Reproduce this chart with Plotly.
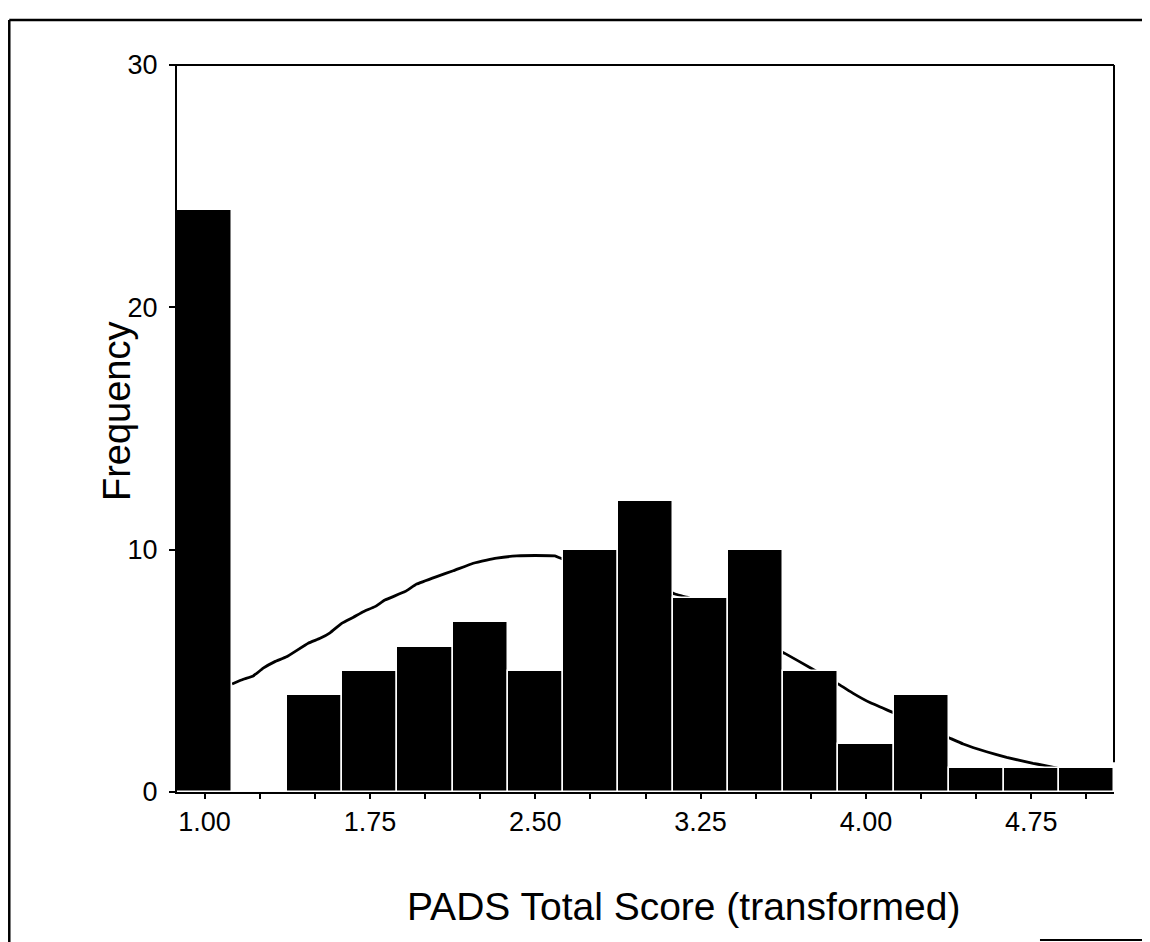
import plotly.graph_objects as go

# ---- data ----
bin_centers = [1.00, 1.25, 1.50, 1.75, 2.00, 2.25, 2.50, 2.75, 3.00, 3.25,
               3.50, 3.75, 4.00, 4.25, 4.50, 4.75, 5.00]
counts = [24, 0, 4, 5, 6, 7, 5, 10, 12, 8, 10, 5, 2, 4, 1, 1, 1]

# normal curve
curve_x = [1.125, 1.176, 1.221, 1.266, 1.319, 1.372, 1.470, 1.524, 1.569, 1.622,
           1.675, 1.720, 1.773, 1.818, 1.909, 1.962, 2.053, 2.128, 2.219, 2.280,
           2.325, 2.416, 2.500, 2.589, 2.620, 2.750, 2.884, 3.000, 3.134, 3.187,
           3.250, 3.383, 3.500, 3.632, 3.753, 3.881, 3.942, 4.018, 4.131, 4.250,
           4.381, 4.441, 4.547, 4.638, 4.758, 4.802, 4.900, 5.000, 5.125]
curve_y = [4.46, 4.65, 4.79, 5.11, 5.38, 5.58, 6.14, 6.34, 6.57, 6.96,
           7.21, 7.44, 7.65, 7.92, 8.27, 8.58, 8.89, 9.13, 9.44, 9.57,
           9.65, 9.74, 9.76, 9.74, 9.63, 9.40, 9.09, 8.70, 8.17, 8.04,
           7.75, 6.99, 6.35, 5.72, 5.10, 4.42, 4.07, 3.69, 3.25, 2.75,
           2.22, 1.98, 1.66, 1.43, 1.18, 1.11, 0.92, 0.76, 0.58]

tick_values = [1.00, 1.25, 1.50, 1.75, 2.00, 2.25, 2.50, 2.75, 3.00, 3.25,
               3.50, 3.75, 4.00, 4.25, 4.50, 4.75, 5.00]
tick_labels = ["1.00", "", "", "1.75", "", "", "2.50", "", "", "3.25",
               "", "", "4.00", "", "", "4.75", ""]
y_ticks = [0, 10, 20, 30]

x_range = [0.875, 5.125]
y_range = [0, 30]

FONT = "Liberation Sans, Arial, sans-serif"

fig = go.Figure()

# curve on the primary (lower) subplot so that bars cover it
fig.add_trace(go.Scatter(
    x=curve_x, y=curve_y, mode="lines",
    line=dict(color="black", width=2.8, shape="spline", smoothing=0.3),
    xaxis="x", yaxis="y", showlegend=False, hoverinfo="skip"))

# bars on the overlaying subplot
fig.add_trace(go.Bar(
    x=bin_centers, y=counts, width=0.25,
    marker=dict(color="black", line=dict(color="white", width=1.5)),
    xaxis="x2", yaxis="y2", showlegend=False))

fig.update_layout(
    width=1150, height=942,
    margin=dict(l=169, r=44, t=57, b=158),
    paper_bgcolor="white", plot_bgcolor="white",
    font=dict(family=FONT, color="black", size=27),
    bargap=0,
    xaxis=dict(range=x_range, visible=False, fixedrange=True),
    yaxis=dict(range=y_range, visible=False, fixedrange=True),
    xaxis2=dict(range=x_range, overlaying="x", anchor="y2", side="bottom",
                showgrid=False, zeroline=False,
                showline=True, linecolor="black", linewidth=2,
                ticks="outside", ticklen=5, tickwidth=1.5, tickcolor="black",
                tickvals=tick_values, ticktext=tick_labels,
                tickfont=dict(size=27, family=FONT), ticklabelstandoff=0),
    yaxis2=dict(range=y_range, overlaying="y", anchor="x2", side="left",
                showgrid=False, zeroline=False,
                showline=True, linecolor="black", linewidth=2,
                ticks="outside", ticklen=6, tickwidth=2, tickcolor="black",
                tickvals=y_ticks, ticktext=[str(v) for v in y_ticks],
                tickfont=dict(size=27, family=FONT), ticklabelstandoff=6),
    annotations=[
        dict(text="PADS Total Score (transformed)", xref="paper", yref="paper",
             x=0.541, y=-0.158, xanchor="center", yanchor="middle",
             showarrow=False, font=dict(size=39, family=FONT)),
        dict(text="Frequency", xref="paper", yref="paper",
             x=-0.0640, y=0.524, xanchor="center", yanchor="middle",
             textangle=-90, showarrow=False, font=dict(size=38, family=FONT)),
    ],
    shapes=[
        # top frame line of plot area
        dict(type="line", xref="paper", yref="paper", x0=-0.006, x1=1.0,
             y0=1.0, y1=1.0, line=dict(color="black", width=2)),
        # right frame line of plot area (stops short of the bottom)
        dict(type="line", xref="paper", yref="paper", x0=1.0, x1=1.0,
             y0=1.0, y1=0.041, line=dict(color="black", width=2)),
        # outer picture frame
        dict(type="line", xref="paper", yref="paper", x0=-0.1790, x1=-0.1790,
             y0=1.0619, y1=-0.2200, line=dict(color="black", width=2.5)),
        dict(type="line", xref="paper", yref="paper", x0=-0.1790, x1=1.0384,
             y0=1.0619, y1=1.0619, line=dict(color="black", width=2.5)),
        dict(type="line", xref="paper", yref="paper", x0=0.921, x1=1.0384,
             y0=-0.2036, y1=-0.2036, line=dict(color="black", width=2)),
    ],
)

fig.write_html("out.html")
